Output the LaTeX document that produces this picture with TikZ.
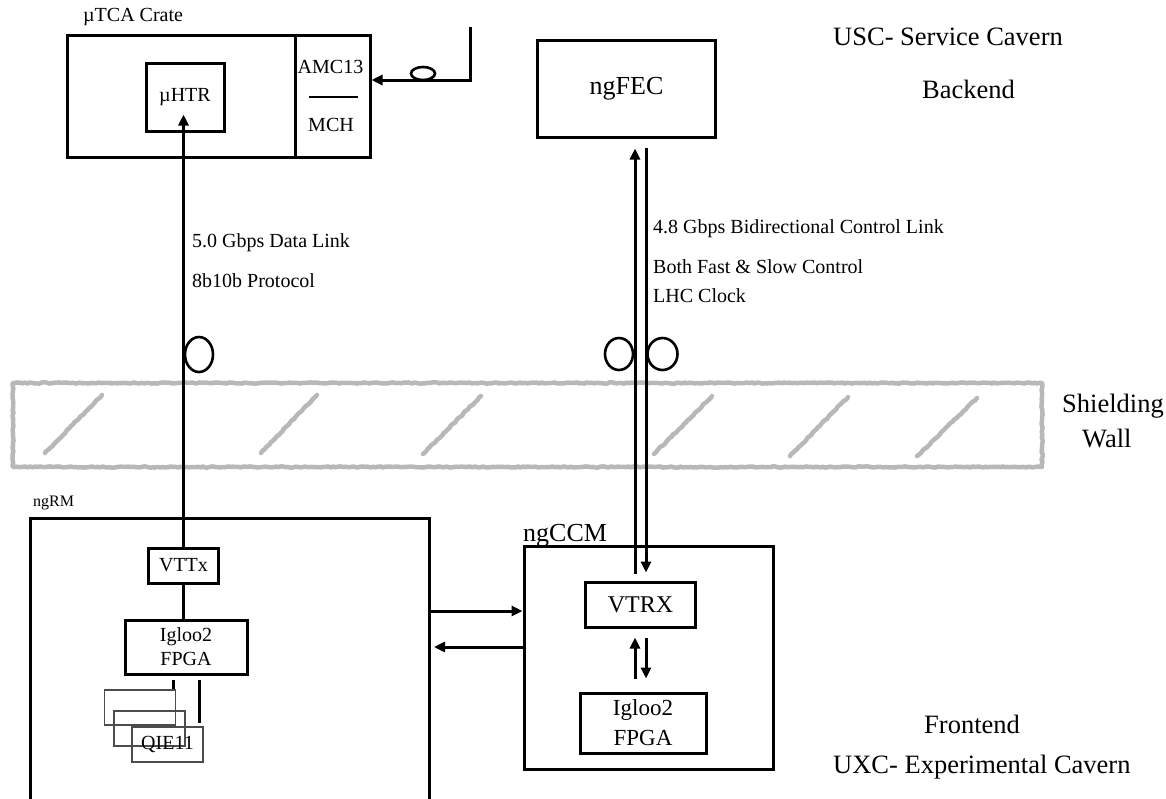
\documentclass[tikz,border=0pt]{standalone}
\usepackage{fontspec}
\setmainfont{Liberation Serif}
\usetikzlibrary{arrows.meta,calc,shapes.geometric,decorations.pathmorphing}
\begin{document}
\begin{tikzpicture}[x=1pt,y=-1pt,
  box/.style={draw, line width=3pt, inner sep=0pt},
  thinbox/.style={draw=black!70, line width=1.2pt, inner sep=0pt, minimum width=71pt, minimum height=35pt},
  arr/.style={line width=3pt, -{Triangle[length=11pt,width=10pt]}},
  conn/.style={line width=3pt},
  fibreloop/.style={draw, ellipse, line width=2.6pt, inner sep=0pt},
  wallline/.style={draw=black!28, line width=4.5pt, line join=round, line cap=round, decorate, decoration={random steps, segment length=2.5pt, amplitude=0.6pt}},
  fA/.style={font=\fontsize{20}{24}\selectfont},
  fB/.style={font=\fontsize{26.5}{30}\selectfont},
  lab/.style={anchor=base west, inner sep=0pt},
]
\path[use as bounding box] (0,0) rectangle (1166,798);
\clip (0,0) rectangle (1166,798);

% shielding wall
\draw[wallline] (13,383) rectangle (1042,467);
\draw[wallline] (45,453) -- (102,395);
\draw[wallline] (261,453) -- (317,395);
\draw[wallline] (423,454) -- (481,396);
\draw[wallline] (654,454) -- (712,396);
\draw[wallline] (790,456) -- (848,397);
\draw[wallline] (917,456) -- (977,398);

% uTCA crate
\node[lab, fA] (cratelab) at (83,21) {µTCA Crate};
\node[box, minimum width=303pt, minimum height=122pt] (crate) at (218.5,96) {};
\draw[conn] (295,0 |- crate.north) -- (295,0 |- crate.south);
\node[box, fA, minimum width=78pt, minimum height=68pt] (uhtr) at (185,97) {µHTR};
\node[fA, inner sep=0pt] (amc) at (330.5,66.5) {AMC13};
\node[fA, inner sep=0pt] (mch) at (331,125) {MCH};
\draw[line width=2.5pt] (309,97) -- (358,97);

% cable into AMC13
\coordinate (cabtop) at (470,27);
\coordinate (cabbend) at (470,80);
\draw[arr] (cabtop) -- (cabbend) -- (cabbend -| crate.east);
\node[fibreloop, minimum width=24pt, minimum height=13pt] (cabloop) at (423,73.5) {};

% ngFEC
\node[box, font=\fontsize{26}{30}\selectfont, minimum width=178pt, minimum height=97pt] (ngfec) at (626.5,88.5) {ngFEC};

% ngCCM
\node[box, minimum width=249pt, minimum height=223pt] (ngccm) at (648.5,657.5) {};
\node[lab, font=\fontsize{26}{30}\selectfont] (ngccmlab) at (523,541) {ngCCM};
\node[box, font=\fontsize{24}{28}\selectfont, minimum width=110pt, minimum height=45pt] (vtrx) at (640.5,605) {VTRX};
\node[box, align=center, font=\fontsize{23}{30}\selectfont, minimum width=126pt, minimum height=60pt] (igccm) at (643,723) {Igloo2\\FPGA};

% ngRM
\node[box, anchor=north west, minimum width=399pt, minimum height=320pt] (ngrm) at (29,517) {};
\node[lab, font=\fontsize{16}{19}\selectfont] (ngrmlab) at (33,506) {ngRM};
\node[box, fA, minimum width=70pt, minimum height=35pt] (vttx) at (183.5,565.5) {VTTx};
\node[box, align=center, font=\fontsize{20}{24}\selectfont, minimum width=122pt, minimum height=54pt] (igrm) at (186,647) {Igloo2\\FPGA};
\draw[conn] (vttx.south) -- (vttx.south |- igrm.north);

\node[thinbox] (q1) at (140,707.5) {};
\node[thinbox] (q2) at (149.5,728.5) {};
\node[thinbox, fA] (q3) at (167.5,744.5) {QIE11};
\coordinate (l1) at ($(igrm.south)+(-13,4)$);
\draw[conn] (l1) -- (l1 |- q1.north);
\coordinate (l2) at ($(igrm.south)+(13,4)$);
\draw[conn, shorten >=3pt] (l2) -- (l2 |- q3.north);

% data link
\coordinate (uhtrtip) at ($(uhtr.south)+(0,-18)$);
\draw[arr] (vttx.north) -- (vttx.north |- uhtrtip);
\node[fibreloop, minimum width=28pt, minimum height=35pt] (loopA) at (199,354.5) {};

% control link
\coordinate (xL) at (635,0);
\coordinate (xR) at (646,0);
\draw[arr, shorten <=7.5pt, shorten >=10pt] (xL |- vtrx.north) -- (xL |- ngfec.south);
\draw[arr, shorten <=9pt, shorten >=8.5pt] (xR |- ngfec.south) -- (xR |- vtrx.north);
\node[fibreloop, minimum width=28pt, minimum height=32pt] (loopB) at (619,354) {};
\node[fibreloop, minimum width=30pt, minimum height=32pt] (loopC) at (662.5,354) {};

% VTRX <-> Igloo2
\draw[arr, shorten <=13pt, shorten >=8.5pt] (xL |- igccm.north) -- (xL |- vtrx.south);
\draw[arr, shorten <=8.5pt, shorten >=13pt] (xR |- vtrx.south) -- (xR |- igccm.north);

% ngRM <-> ngCCM
\coordinate (h1) at (0,611);
\coordinate (h2) at (0,647);
\draw[arr] (h1 -| ngrm.east) -- (h1 -| ngccm.west);
\draw[arr, shorten >=3pt] (h2 -| ngccm.west) -- (h2 -| ngrm.east);

% annotations
\node[lab, fA] (t1) at (192,247) {5.0 Gbps Data Link};
\node[lab, fA] (t2) at (192,287) {8b10b Protocol};
\node[lab, fA] (t3) at (653,233) {4.8 Gbps Bidirectional Control Link};
\node[lab, fA] (t4) at (653,273) {Both Fast \& Slow Control};
\node[lab, fA] (t5) at (653,302) {LHC Clock};

\node[lab, fB] (usc) at (833,45) {USC- Service Cavern};
\node[lab, fB] (backend) at (922,98) {Backend};
\node[lab, fB] (shield) at (1062,412) {Shielding};
\node[lab, fB] (wall) at (1082,447) {Wall};
\node[lab, fB] (frontend) at (924,733) {Frontend};
\node[lab, fB] (uxc) at (833,773) {UXC- Experimental Cavern};
\end{tikzpicture}
\end{document}
